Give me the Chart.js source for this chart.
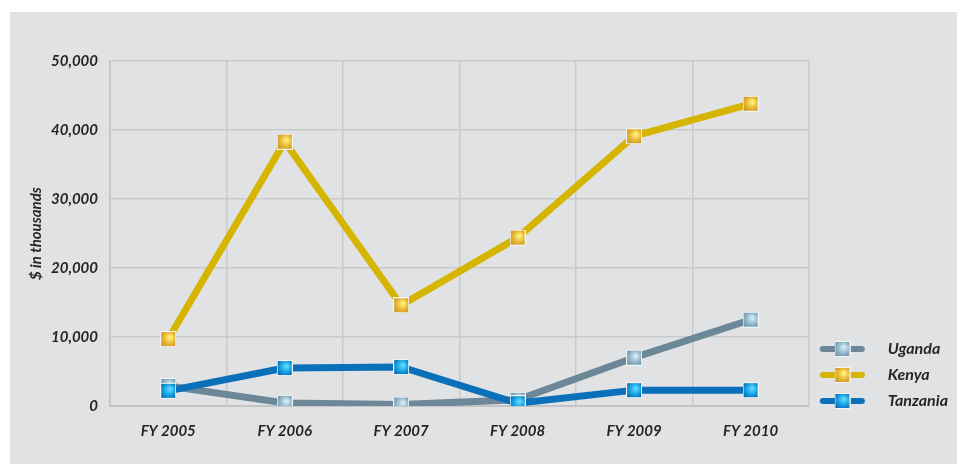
<!DOCTYPE html>
<html>
<head>
<meta charset="utf-8">
<script src="https://cdn.jsdelivr.net/npm/chart.js@4"></script>
<style>
    body { margin: 0; background: #ffffff; }
    #panel { position: absolute; left: 10px; top: 12px; width: 947px; height: 452px; background: #e1e2e4; }
</style>
</head>
<body>
<div id="panel"><canvas id="grafica" width="947" height="452"></canvas></div>
<script type="text/javascript">

    // Años fiscales y montos ($ en miles)
    var anios = ["FY 2005", "FY 2006", "FY 2007", "FY 2008", "FY 2009", "FY 2010"]
    var uganda = [2900, 450, 200, 900, 7000, 12500]
    var kenya = [9700, 38300, 14600, 24400, 39100, 43800]
    var tanzania = [2200, 5500, 5650, 400, 2300, 2300]
    var marcasY = [0, 10000, 20000, 30000, 40000, 50000]

    var fuente = "Lato, 'Open Sans', sans-serif"
    var colorTexto = "#262626"

    // marcador cuadrado con borde blanco y brillo
    function marcador(claro, medio, oscuro) {
        var c = document.createElement("canvas")
        c.width = 16
        c.height = 16
        var ctx = c.getContext("2d")
        ctx.fillStyle = "#f4f4f4"
        ctx.fillRect(0, 0, 16, 16)
        var g = ctx.createRadialGradient(10, 6, 1, 8, 8, 11)
        g.addColorStop(0, claro)
        g.addColorStop(0.45, medio)
        g.addColorStop(1, oscuro)
        ctx.fillStyle = g
        ctx.fillRect(1, 1, 14, 14)
        return c
    }

    // linea + marcador para la leyenda
    function iconoLeyenda(colorLinea, punto) {
        var c = document.createElement("canvas")
        c.width = 61
        c.height = 18
        var ctx = c.getContext("2d")
        ctx.strokeStyle = colorLinea
        ctx.lineWidth = 6
        ctx.lineCap = "round"
        ctx.beginPath()
        ctx.moveTo(4, 9)
        ctx.lineTo(43, 9)
        ctx.stroke()
        ctx.drawImage(punto, 15.5, 1)
        return c
    }

    var ptoUganda = marcador("#d2ecf6", "#93b9cc", "#5d8296")
    var ptoKenya = marcador("#fff17a", "#e7b936", "#c2861c")
    var ptoTanzania = marcador("#5fd8ff", "#14a2e2", "#05509c")

    var series = [
        { label: "Uganda", data: uganda, color: "#6c8797", punto: ptoUganda, orden: 2 },
        { label: "Kenya", data: kenya, color: "#d5b500", punto: ptoKenya, orden: 1 },
        { label: "Tanzania", data: tanzania, color: "#0a70ba", punto: ptoTanzania, orden: 0 }
    ]

    var iconos = series.map(s => iconoLeyenda(s.color, s.punto))

    var datos = {
        labels: anios,
        datasets: series.map(s => ({
            label: s.label,
            data: s.data,
            borderColor: s.color,
            backgroundColor: s.color,
            borderWidth: 7,
            borderJoinStyle: "round",
            tension: 0,
            pointStyle: s.punto,
            pointRadius: 8,
            pointHoverRadius: 8,
            order: s.orden
        }))
    }

    // sube la leyenda junto a la parte baja del area de datos
    var moverLeyenda = {
        id: "moverLeyenda",
        afterLayout: function (chart) {
            var ley = chart.legend
            ley.top -= 43
            ley.bottom -= 43
        }
    }

    var canvas = document.getElementById("grafica")
    var context = canvas.getContext("2d")

    window.linea = new Chart(context, {
        type: "line",
        data: datos,
        plugins: [moverLeyenda],
        options: {
            responsive: false,
            animation: false,
            layout: { padding: { top: 49, left: 10, right: -1, bottom: 2 } },
            scales: {
                x: {
                    offset: true,
                    grid: { offset: true, color: "#c8c9cb", lineWidth: 1.5, drawTicks: false },
                    border: { color: "#c3c4c6", width: 2 },
                    ticks: {
                        padding: 16,
                        color: colorTexto,
                        font: { family: fuente, size: 15, weight: "bold", style: "italic" }
                    },
                    afterFit: function (escala) { escala.height = 56 }
                },
                y: {
                    min: 0,
                    max: 50000,
                    afterBuildTicks: function (escala) {
                        escala.ticks = marcasY.map(v => ({ value: v }))
                    },
                    grid: { color: "#c8c9cb", lineWidth: 1.5, drawTicks: false },
                    border: { color: "#c3c4c6", width: 1.5 },
                    ticks: {
                        padding: 12,
                        color: colorTexto,
                        font: { family: fuente, size: 15, weight: "bold", style: "italic" },
                        callback: function (v) { return v.toLocaleString("en-US") }
                    },
                    title: {
                        display: true,
                        text: "$ in thousands",
                        color: colorTexto,
                        padding: { top: 7, bottom: 0 },
                        font: { family: fuente, size: 15, weight: "bold", style: "italic" }
                    },
                    afterFit: function (escala) { escala.width = 90 }
                }
            },
            plugins: {
                legend: {
                    position: "right",
                    align: "end",
                    labels: {
                        usePointStyle: true,
                        pointStyleWidth: 61,
                        padding: 10,
                        color: colorTexto,
                        font: { family: fuente, size: 16, weight: "bold", style: "italic" },
                        sort: (a, b) => a.datasetIndex - b.datasetIndex,
                        generateLabels: function (chart) {
                            var items = Chart.defaults.plugins.legend.labels.generateLabels(chart)
                            items.forEach(it => { it.pointStyle = iconos[it.datasetIndex] })
                            return items
                        }
                    }
                },
                tooltip: { enabled: false }
            }
        }
    })

</script>
</body>
</html>
